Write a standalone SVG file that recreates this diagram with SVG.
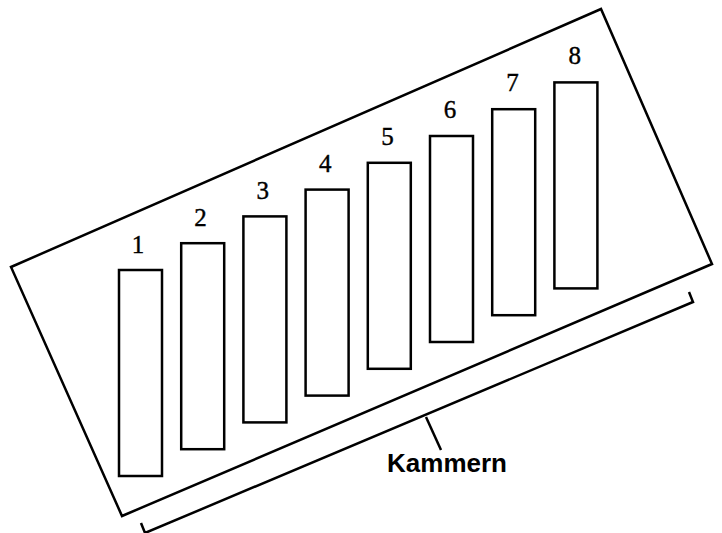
<svg xmlns="http://www.w3.org/2000/svg" width="722" height="533" viewBox="0 0 722 533">
<style>
.ln{fill:none;stroke:#000;stroke-width:2.5;stroke-linejoin:miter}
.ch{fill:#fff;stroke:#000;stroke-width:2.5}
.num{font-family:"Liberation Serif",serif;font-size:25px;text-anchor:middle;fill:#000;stroke:#000;stroke-width:0.4}
.lbl{font-family:"Liberation Sans",Arial,sans-serif;font-size:26px;font-weight:bold;text-anchor:middle;fill:#000}
</style>
<rect width="722" height="533" fill="#fff"/>
<g id="frame"><polygon class="ln" points="11,267 601,9 712,264 122,516"/></g>
<g id="chamber1"><rect class="ch" x="119" y="270" width="43" height="206"/><text class="num" x="138" y="253">1</text></g>
<g id="chamber2"><rect class="ch" x="181.2" y="243.2" width="43" height="206"/><text class="num" x="200.4" y="226">2</text></g>
<g id="chamber3"><rect class="ch" x="243.4" y="216.4" width="43" height="206"/><text class="num" x="262.8" y="199">3</text></g>
<g id="chamber4"><rect class="ch" x="305.6" y="189.6" width="43" height="206"/><text class="num" x="325.2" y="172">4</text></g>
<g id="chamber5"><rect class="ch" x="367.8" y="162.8" width="43" height="206"/><text class="num" x="387.6" y="145">5</text></g>
<g id="chamber6"><rect class="ch" x="430" y="136" width="43" height="206"/><text class="num" x="450" y="118">6</text></g>
<g id="chamber7"><rect class="ch" x="492.2" y="109.2" width="43" height="206"/><text class="num" x="512.4" y="91">7</text></g>
<g id="chamber8"><rect class="ch" x="554.4" y="82.4" width="43" height="206"/><text class="num" x="574.8" y="64">8</text></g>
<g id="connectors">
<polyline class="ln" points="689,292 693,302 145,533 141,523"/>
<line class="ln" x1="426" y1="417" x2="441" y2="450"/>
</g>
<g id="label"><text class="lbl" x="447" y="472">Kammern</text></g>
</svg>
